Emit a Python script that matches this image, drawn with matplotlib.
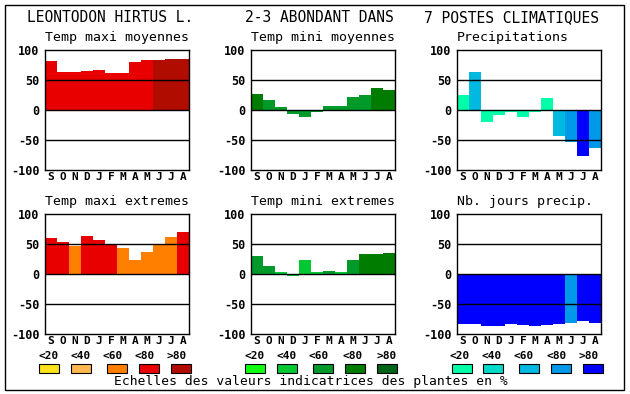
import matplotlib
matplotlib.use("Agg")
import matplotlib.pyplot as plt
from matplotlib.patches import Rectangle

W, H = 630, 394

months = ["S", "O", "N", "D", "J", "F", "M", "A", "M", "J", "J", "A"]
yticks = [100, 50, 0, -50, -100]
classes = ["<20", "<40", "<60", "<80", ">80"]

# colour scales (class 0..4)
reds = ["#fbe21a", "#ffb850", "#ff8000", "#e80000", "#b00c00"]
greens = ["#10ff10", "#00c832", "#009a2a", "#007c00", "#006418"]
blues = ["#00ffa8", "#00d8c8", "#00b8e0", "#0098e8", "#0000ff"]

# panel data: values and class index per month
tmax_moy = [82, 64, 64, 65, 67, 62, 62, 80, 83, 83, 85, 85]
tmax_moy_cls = [3, 3, 3, 3, 3, 3, 3, 3, 3, 4, 4, 4]

tmin_moy = [26, 17, 5, -7, -11, -3, 7, 7, 21, 25, 36, 34]
tmin_moy_cls = [3, 2, 2, 2, 2, 2, 2, 2, 2, 2, 3, 3]

precip = [25, 64, -20, -8, -4, -12, -3, 20, -43, -54, -76, -64]
precip_cls = [0, 2, 0, 0, 0, 0, 0, 0, 2, 3, 4, 3]

tmax_ext = [60, 53, 47, 63, 57, 50, 43, 23, 36, 50, 62, 70]
tmax_ext_cls = [3, 3, 2, 3, 3, 3, 2, 2, 2, 2, 2, 3]

tmin_ext = [30, 13, 3, -3, 23, 3, 5, 3, 23, 33, 33, 35]
tmin_ext_cls = [2, 2, 1, 1, 1, 1, 2, 1, 2, 3, 3, 3]

jours = [-83, -83, -86, -86, -83, -85, -86, -85, -83, -81, -78, -81]
jours_cls = [4, 4, 4, 4, 4, 4, 4, 4, 4, 3, 4, 4]

panels = [
    ("Temp maxi moyennes", tmax_moy, tmax_moy_cls, reds, 45, 50),
    ("Temp mini moyennes", tmin_moy, tmin_moy_cls, greens, 251, 50),
    ("Precipitations", precip, precip_cls, blues, 457, 50),
    ("Temp maxi extremes", tmax_ext, tmax_ext_cls, reds, 45, 214),
    ("Temp mini extremes", tmin_ext, tmin_ext_cls, greens, 251, 214),
    ("Nb. jours precip.", jours, jours_cls, blues, 457, 214),
]

MONO = "DejaVu Sans Mono"
fig = plt.figure(figsize=(W / 100, H / 100), dpi=100)


def fx(x):
    return x / W


def fy(y):
    return 1 - y / H


# outer frame
fig.patches.append(Rectangle((fx(5), fy(390)), fx(619), 385 / H, transform=fig.transFigure,
                             fill=False, edgecolor="black", linewidth=1))

# headline
fig.text(fx(110), fy(18), "LEONTODON HIRTUS L.", family=MONO, fontsize=10.5,
         ha="center", va="center")
fig.text(fx(319), fy(18), "2-3 ABONDANT DANS", family=MONO, fontsize=10.5,
         ha="center", va="center")
fig.text(fx(512), fy(18), "7 POSTES CLIMATIQUES", family=MONO, fontsize=10.5,
         ha="center", va="center")

for title, vals, cls, scale, x0, y0 in panels:
    ax = fig.add_axes([fx(x0), fy(y0 + 120), 144 / W, 120 / H])
    cols = [scale[c] for c in cls]
    ax.bar(range(12), vals, width=1.0, align="edge", color=cols, linewidth=0, zorder=1)
    for yl in (50, 0, -50):
        ax.axhline(yl, color="black", linewidth=1, zorder=3)
    ax.set_xlim(0, 12)
    ax.set_ylim(-100, 100)
    ax.set_yticks(yticks)
    ax.set_yticklabels([str(t) for t in yticks], family=MONO, fontsize=8.5, fontweight="bold")
    ax.set_xticks([i + 0.5 for i in range(12)])
    ax.set_xticklabels(months, family=MONO, fontsize=8, fontweight="bold")
    ax.tick_params(axis="y", length=0, pad=4)
    ax.tick_params(axis="x", length=0, pad=1.5)
    for s in ax.spines.values():
        s.set_linewidth(1)
    fig.text(fx(x0), fy(y0 - 12), title, family=MONO, fontsize=9.5,
             ha="left", va="center")

# legends
legend_rows = [
    (reds, [39, 71, 107, 139, 171], [49, 81, 113, 145, 177]),
    (greens, [245, 277, 313, 345, 377], [255, 287, 319, 353, 387]),
    (blues, [452, 483, 519, 551, 583], [460, 492, 524, 557, 589]),
]
for scale, boxes, labs in legend_rows:
    for c, bx, lx, lab in zip(scale, boxes, labs, classes):
        fig.patches.append(Rectangle((fx(bx), fy(373)), 20 / W, 9 / H,
                                     transform=fig.transFigure, facecolor=c,
                                     edgecolor="black", linewidth=0.8))
        fig.text(fx(lx), fy(356), lab, family=MONO, fontsize=8, fontweight="bold",
                 ha="center", va="center")

fig.text(fx(311), fy(382), "Echelles des valeurs indicatrices des plantes en %",
         family=MONO, fontsize=9.4, ha="center", va="center")

fig.savefig("out.png", dpi=100)
